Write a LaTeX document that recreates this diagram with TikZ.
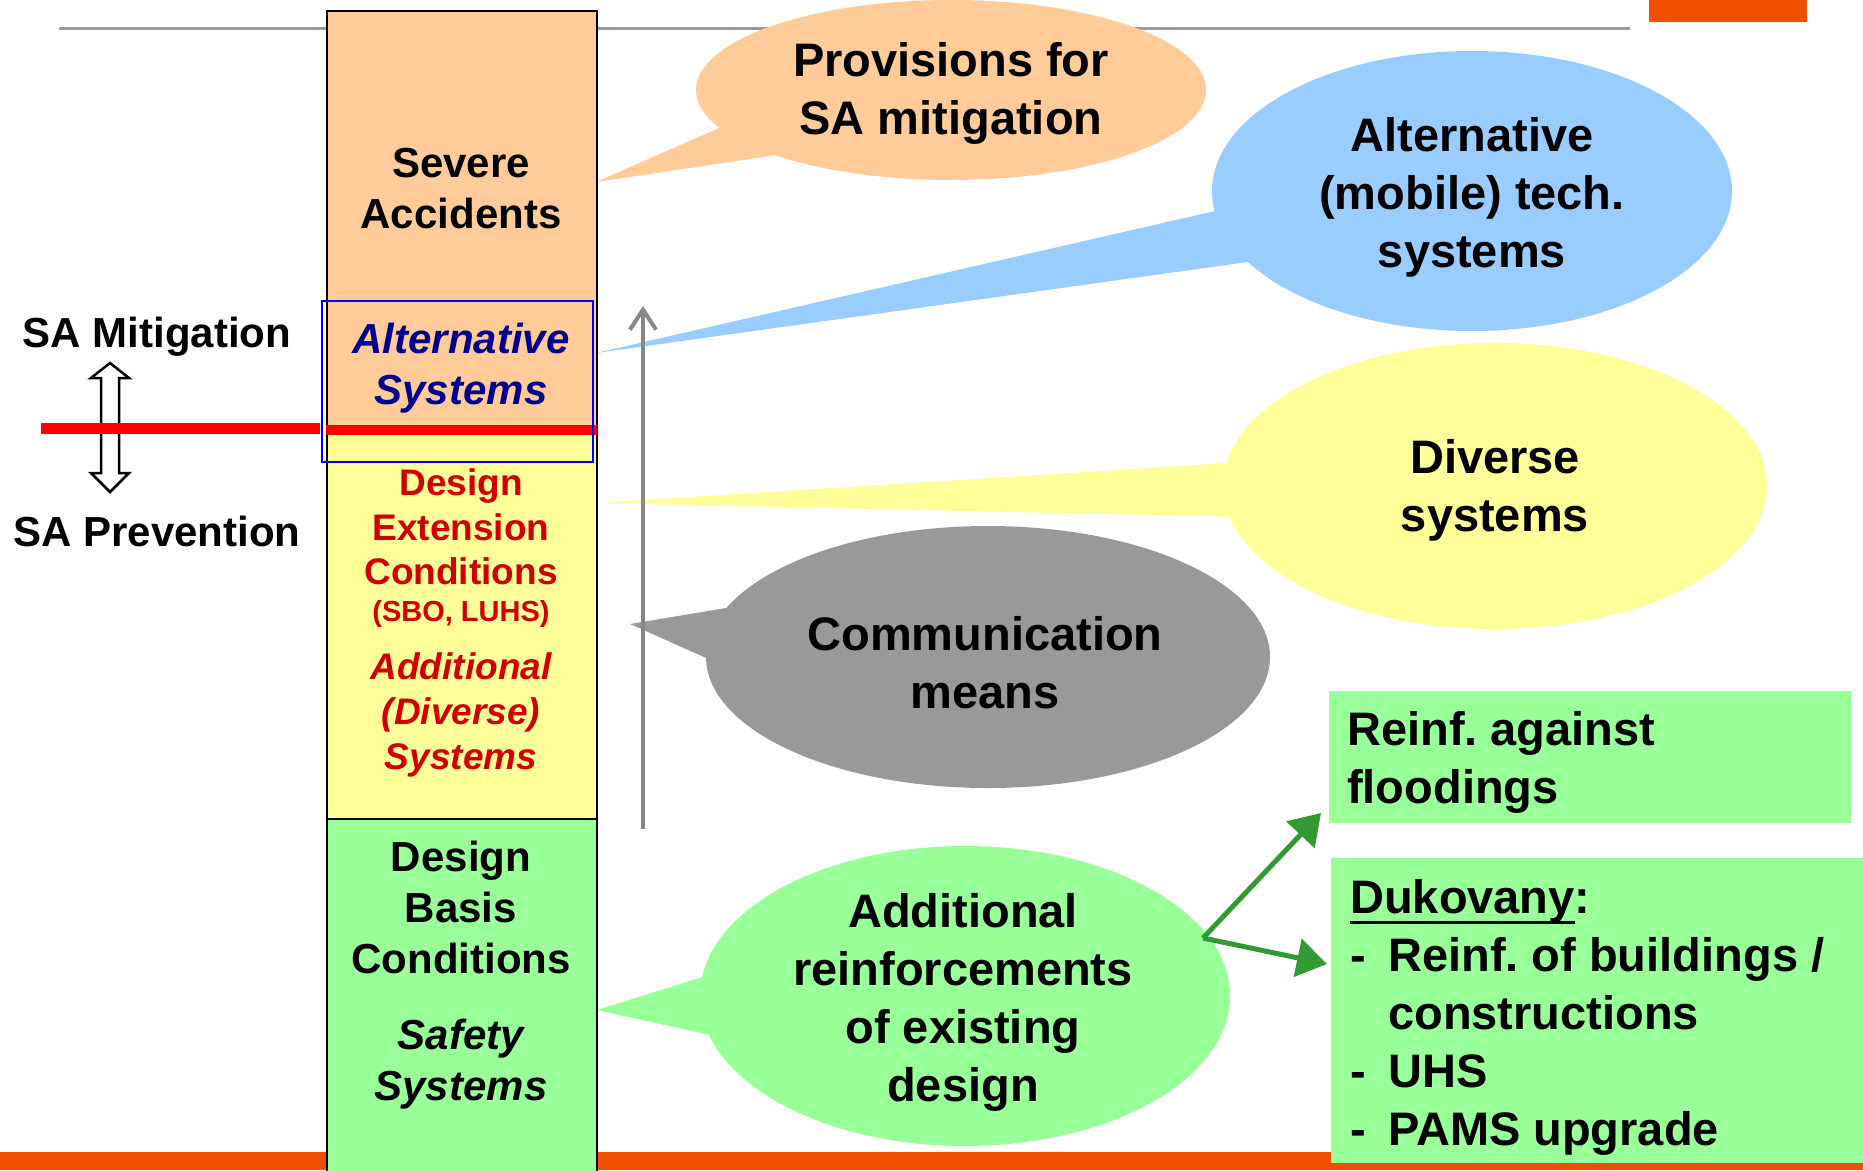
\documentclass[tikz,border=0pt]{standalone}
\usepackage{fontspec}
\setmainfont{Liberation Sans}
\usetikzlibrary{arrows.meta,shapes.geometric}
\frenchspacing
\definecolor{cOr}{HTML}{FFCC99}
\definecolor{cYe}{HTML}{FFFF99}
\definecolor{cGr}{HTML}{99FF99}
\definecolor{cBl}{HTML}{99CCFF}
\definecolor{cGy}{HTML}{999999}
\definecolor{cLine}{HTML}{9A9A9A}
\definecolor{cArr}{HTML}{888888}
\definecolor{cRed}{HTML}{D00000}
\definecolor{cNavy}{HTML}{000090}
\definecolor{cBar}{HTML}{F25000}
\definecolor{cDkG}{HTML}{339933}
\newcommand{\myul}[1]{\setbox0\hbox{#1}\rlap{\rule[-11pt]{\wd0}{3pt}}\box0}
\tikzset{
  colbox/.style={rectangle, draw=black, line width=2pt, inner sep=0pt, anchor=north west},
  bubble/.style={ellipse, inner sep=0pt, draw=none},
  btext/.style={font=\fontsize{47}{58}\selectfont\bfseries, align=center, inner sep=0pt, yshift=-4.5pt},
  ctext/.style={font=\fontsize{42}{51}\selectfont\bfseries, align=center, inner sep=0pt, yshift=-4pt},
  rtext/.style={font=\fontsize{37}{44.5}\selectfont\bfseries, align=center, text=cRed, inner sep=0pt, yshift=-3pt},
  gbox/.style={rectangle, fill=cGr, inner sep=0pt, anchor=north west},
  gtext/.style={inner sep=0pt, align=left, anchor=west, font=\fontsize{47}{58}\selectfont\bfseries},
  garrow/.style={draw=cDkG, line width=5pt, -{Triangle[length=30pt,width=38pt]}},
  hollow/.style={fill=white, draw=black, line width=2.5pt, line join=miter}
}
\begin{document}
\begin{tikzpicture}[x=1pt,y=-1pt]
\useasboundingbox (0,0) rectangle (1863,1170);
% background decorations
\fill[cBar] (0,1152) rectangle (1863,1170);
\draw[cLine, line width=3pt] (59,28) -- (1630,28);
\fill[cBar] (1649,0) rectangle (1807,22);

% bubbles with tails
\coordinate (tp1) at (596,182);
\fill[cOr] (tp1) -- (760,110) -- (830,147) -- cycle;
\node[bubble, fill=cOr, minimum width=510pt, minimum height=180pt] (prov) at (951,90) {};

\coordinate (tp2) at (596,353);
\fill[cBl] (tp2) -- (1276,197) -- (1312,253) -- cycle;
\node[bubble, fill=cBl, minimum width=520pt, minimum height=280pt] (altb) at (1472,191) {};

\coordinate (tp3) at (596,503);
\fill[cYe] (tp3) -- (1290,459) -- (1290,518) -- cycle;
\node[bubble, fill=cYe, minimum width=544pt, minimum height=286pt] (divb) at (1495,486) {};

\coordinate (tp4) at (630,624);
\fill[cGy] (tp4) -- (780,599) -- (780,691) -- cycle;
\node[bubble, fill=cGy, minimum width=564pt, minimum height=262pt] (comb) at (988,657) {};

\coordinate (tp5) at (597,1010);
\fill[cGr] (tp5) -- (760,959) -- (760,1046) -- cycle;
\node[bubble, fill=cGr, minimum width=530pt, minimum height=300pt] (addb) at (965,996) {};

% column
\node[colbox, fill=cOr, minimum width=270pt, minimum height=420pt] (sa) at (326,10) {};
\node[colbox, fill=cYe, minimum width=270pt, minimum height=388pt] (dec) at (326,430) {};
\node[colbox, fill=cGr, minimum width=270pt, minimum height=360pt] (dbc) at (326,818) {};
\fill[red] (326,425) rectangle (597,435);
\draw[blue, line width=2pt] (322,301) rectangle (593,462);

% gray vertical arrow
\coordinate (gb) at (643,829);
\coordinate (gt) at (643,306);
\draw[cArr, line width=4pt, -{Straight Barb[length=20pt,width=26pt]}] (gb) -- (gt);

% column texts
\node[ctext] (t1) at (461,185) {Severe\\Accidents};
\node[ctext, text=cNavy, font=\fontsize{42}{51}\selectfont\bfseries\itshape] (t2) at (461,364) {Alternative\\Systems};
\node[rtext] (t3) at (461,524) {Design\\Extension\\Conditions};
\node[rtext, font=\fontsize{29}{34}\selectfont\bfseries] (t4) at (461,611) {(SBO, LUHS)};
\node[rtext, font=\fontsize{37}{45}\selectfont\bfseries\itshape] (t5) at (461,712) {Additional\\(Diverse)\\Systems};
\node[ctext] (t6) at (461,903) {Design\\Basis\\Conditions};
\node[ctext, font=\fontsize{42}{51}\selectfont\bfseries\itshape] (t7) at (461,1060) {Safety\\Systems};

% bubble texts
\node[btext] (prt) at (951,89) {Provisions for\\SA mitigation};
\node[btext] (alt) at (1472,193) {Alternative\\(mobile) tech.\\systems};
\node[btext] (dvt) at (1495,486) {Diverse\\systems};
\node[btext] (cmt) at (985,658) {Communication\\means};
\node[btext] (adt) at (963,998) {Additional\\reinforcements\\of existing\\design};

% green boxes
\node[gbox, minimum width=522pt, minimum height=132pt] (reinf) at (1329,691) {};
\node[gtext] (reinft) at (1347,762) {Reinf. against\\floodings};
\node[gbox, minimum width=532pt, minimum height=305pt] (duk) at (1331,858) {};
\node[gtext] (dukt) at (1350,1017)
  {\myul{Dukovany}:\\
   \makebox[38pt][l]{-}Reinf. of buildings /\\
   \hspace*{38pt}constructions\\
   \makebox[38pt][l]{-}UHS\\
   \makebox[38pt][l]{-}PAMS upgrade};

% green arrows
\coordinate (gs) at (1203,938);
\coordinate (g1) at (1321,813);
\coordinate (g2) at (1327,964);
\draw[garrow] (gs) -- (g1);
\draw[garrow] (gs) -- (g2);

% left labels and hollow double arrow
\node[ctext] (mit) at (157,333) {SA Mitigation};
\node[ctext] (prev) at (157,527) {SA Prevention};
\draw[hollow] (110,363) -- (129,378) -- (119,378) -- (119,426) -- (101,426) -- (101,378) -- (91,378) -- cycle;
\draw[hollow] (101,431) -- (119,431) -- (119,473) -- (129,473) -- (110,492) -- (91,473) -- (101,473) -- cycle;
\fill[red] (41,423) rectangle (320,434);
\end{tikzpicture}
\end{document}
